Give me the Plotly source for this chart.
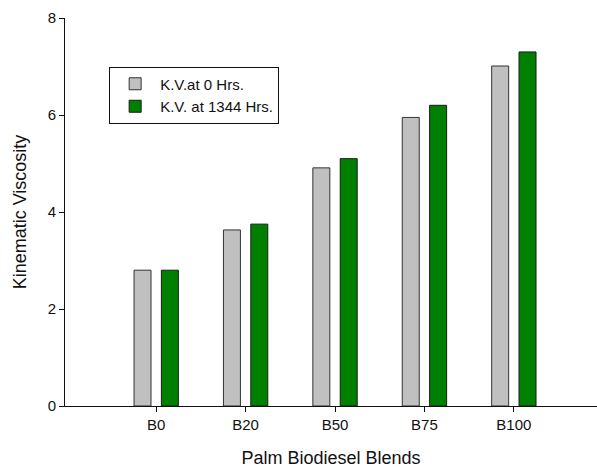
import plotly.graph_objects as go

# Palm biodiesel blends and kinematic viscosity before/after storage
blends = ["B0", "B20", "B50", "B75", "B100"]
kv_0_hrs = [2.80, 3.63, 4.91, 5.95, 7.01]
kv_1344_hrs = [2.80, 3.75, 5.10, 6.20, 7.30]
y_ticks = [0, 2, 4, 6, 8]

positions = list(range(1, len(blends) + 1))

fig = go.Figure()
fig.add_trace(go.Bar(
    x=positions, y=kv_0_hrs, name="K.V.at 0 Hrs.",
    width=0.19, offset=-0.248,
    marker=dict(color="#c0c0c0", line=dict(color="#333333", width=1)),
))
fig.add_trace(go.Bar(
    x=positions, y=kv_1344_hrs, name="K.V. at 1344 Hrs.",
    width=0.19, offset=0.058,
    marker=dict(color="#008000", line=dict(color="#1a1a1a", width=1)),
))

fig.update_layout(
    width=597, height=468,
    margin=dict(l=65, r=0, t=18, b=62),
    barmode="overlay",
    plot_bgcolor="white", paper_bgcolor="white",
    font=dict(family="Liberation Sans, Arial, sans-serif", size=15, color="#111111"),
    showlegend=True,
    legend=dict(
        x=0.083, y=0.875, xanchor="left", yanchor="top",
        bordercolor="#111111", borderwidth=1, bgcolor="white",
        font=dict(size=15), itemwidth=40, tracegroupgap=0,
    ),
    xaxis=dict(
        range=[-0.02, 5.93],
        tickvals=positions, ticktext=blends,
        showline=True, linecolor="#111111", linewidth=1,
        ticks="outside", ticklen=5, tickcolor="#111111",
        tickfont=dict(size=15),
        showgrid=False, zeroline=False,
        title=dict(text="Palm Biodiesel Blends", standoff=20, font=dict(size=18)),
    ),
    yaxis=dict(
        range=[0, 8], tickvals=y_ticks,
        showline=True, linecolor="#111111", linewidth=1,
        ticks="outside", ticklen=5, tickcolor="#111111",
        tickfont=dict(size=15),
        showgrid=False, zeroline=False,
        title=dict(text="Kinematic Viscosity", standoff=16, font=dict(size=18)),
    ),
)

fig.write_html("out.html")
